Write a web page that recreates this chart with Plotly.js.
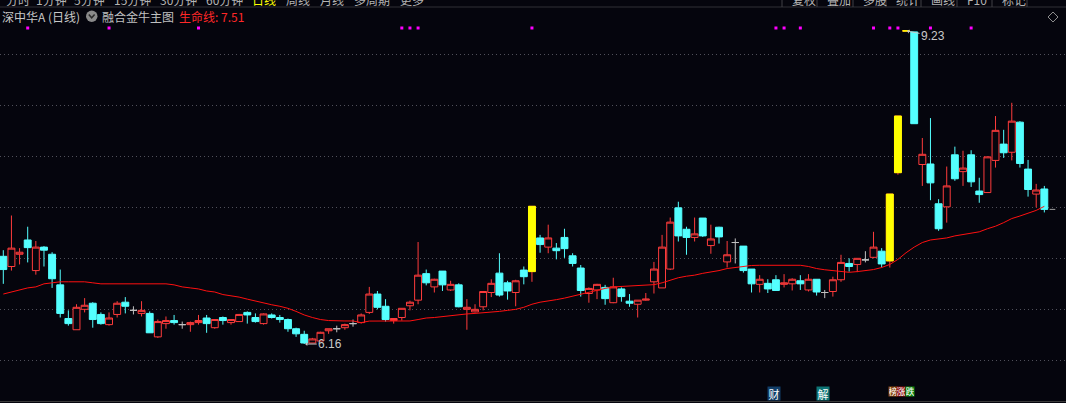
<!DOCTYPE html>
<html><head><meta charset="utf-8">
<script src="https://cdn.plot.ly/plotly-3.0.1.min.js"></script>
<style>html,body{margin:0;padding:0;background:#05050d;overflow:hidden}</style>
</head><body><div id="chart" style="width:1066px;height:403px"></div>
<script>
// ---------------- data (daily OHLC) ----------------
const openP  = [7.02,6.92,7.04,7.18,6.88,7.11,7.04,6.74,6.41,6.30,
                6.50,6.56,6.45,6.35,6.45,6.57,6.49,6.46,6.46,6.23,
                6.36,6.39,6.35,6.35,6.37,6.415,6.32,6.42,6.37,6.38,
                6.47,6.42,6.36,6.445,6.42,6.40,6.31,6.255,6.17,6.19,
                6.29,6.31,6.32,6.36,6.37,6.47,6.65,6.53,6.39,6.42,
                6.535,6.59,6.85,6.72,6.875,6.69,6.74,6.50,6.475,6.525,
                6.665,6.855,6.76,6.665,6.885,6.87,7.20,7.11,7.10,7.205,
                7.025,6.905,6.655,6.69,6.715,6.565,6.70,6.58,6.55,6.59,
                6.77,6.71,6.895,7.495,7.285,7.205,7.395,7.125,7.305,6.965,
                7.155,7.12,6.895,6.745,6.755,6.79,6.745,6.75,6.78,6.69,
                6.795,6.665,6.675,6.79,6.95,6.94,6.985,7.01,7.07,6.975,
                7.84,9.23,9.22,7.92,7.925,7.535,7.505,8.015,7.85,8.015,
                7.66,7.645,7.96,8.12,8.04,8.335,7.875,7.63,7.68];
const highP  = [7.08,7.42,7.10,7.31,7.17,7.12,7.06,6.89,6.49,6.55,
                6.61,6.57,6.47,6.47,6.58,6.62,6.53,6.58,6.48,6.40,
                6.43,6.445,6.38,6.38,6.445,6.445,6.40,6.43,6.40,6.455,
                6.48,6.46,6.46,6.46,6.445,6.41,6.32,6.29,6.22,6.28,
                6.31,6.34,6.36,6.40,6.46,6.72,6.68,6.60,6.415,6.51,
                6.585,7.16,6.89,6.80,6.875,6.78,6.755,6.60,6.55,6.68,
                6.795,7.05,6.78,6.79,6.92,7.51,7.23,7.33,7.15,7.29,
                7.05,6.935,6.715,6.75,6.74,6.81,6.715,6.65,6.59,6.66,
                6.965,7.23,7.40,7.555,7.31,7.40,7.395,7.33,7.31,7.17,
                7.195,7.12,6.895,6.835,6.795,6.835,6.845,6.805,6.835,6.845,
                6.795,6.69,6.82,7.035,7.00,7.00,7.07,7.26,7.10,7.63,
                8.395,9.23,9.22,8.18,8.375,7.58,7.90,8.095,8.055,8.06,
                7.79,8.00,8.395,8.26,8.525,8.345,7.965,7.73,7.71];
const lowP   = [6.75,6.88,6.94,6.96,6.84,6.92,6.71,6.42,6.34,6.30,
                6.47,6.32,6.35,6.34,6.42,6.46,6.45,6.43,6.27,6.22,
                6.31,6.35,6.31,6.28,6.35,6.27,6.31,6.35,6.35,6.38,
                6.36,6.37,6.35,6.41,6.37,6.28,6.23,6.16,6.17,6.19,
                6.26,6.275,6.30,6.33,6.36,6.455,6.50,6.38,6.36,6.39,
                6.49,6.55,6.735,6.665,6.68,6.68,6.52,6.30,6.47,6.49,
                6.62,6.625,6.595,6.53,6.745,6.77,7.055,7.05,6.99,7.005,
                6.92,6.625,6.565,6.60,6.545,6.56,6.575,6.525,6.42,6.585,
                6.655,6.71,6.885,7.165,7.035,7.165,7.21,7.045,7.145,6.91,
                6.95,6.86,6.665,6.665,6.66,6.68,6.715,6.685,6.69,6.675,
                6.635,6.61,6.625,6.77,6.87,6.865,6.96,7.00,6.91,6.91,
                7.82,9.23,8.32,7.71,7.57,7.27,7.35,7.76,7.71,7.70,
                7.545,7.645,7.89,7.985,7.96,7.89,7.605,7.50,7.45];
const closeP = [6.89,7.10,7.06,7.105,7.11,7.08,6.80,6.46,6.36,6.52,
                6.54,6.40,6.36,6.415,6.56,6.53,6.49,6.49,6.27,6.38,
                6.39,6.37,6.35,6.37,6.39,6.36,6.40,6.39,6.40,6.45,
                6.445,6.38,6.455,6.42,6.40,6.31,6.26,6.17,6.21,6.275,
                6.31,6.31,6.35,6.36,6.445,6.65,6.52,6.40,6.41,6.51,
                6.57,6.835,6.76,6.795,6.74,6.745,6.525,6.52,6.50,6.675,
                6.755,6.64,6.68,6.78,6.82,7.51,7.135,7.20,7.075,7.095,
                6.95,6.685,6.705,6.745,6.605,6.72,6.625,6.56,6.59,6.60,
                6.895,7.11,7.355,7.22,7.205,7.24,7.22,7.19,7.21,7.035,
                7.155,6.88,6.75,6.795,6.70,6.685,6.76,6.795,6.75,6.795,
                6.67,6.665,6.79,6.96,6.92,7.00,6.985,7.11,6.945,7.63,
                8.395,9.23,8.32,8.02,7.74,7.29,7.71,7.78,7.885,7.75,
                7.625,7.995,8.255,8.035,8.345,7.93,7.675,7.67,7.48];
// 生命线 (life line) values per day
const lifeLine = [6.65,6.67,6.69,6.71,6.72,6.75,6.76,6.77,6.77,6.77,
                  6.77,6.76,6.75,6.75,6.75,6.755,6.755,6.755,6.755,6.755,
                  6.75,6.74,6.72,6.71,6.70,6.68,6.67,6.645,6.635,6.62,
                  6.60,6.58,6.56,6.545,6.53,6.51,6.48,6.445,6.42,6.40,
                  6.39,6.386,6.386,6.386,6.37,6.385,6.386,6.386,6.386,6.386,
                  6.386,6.40,6.415,6.42,6.43,6.44,6.45,6.455,6.46,6.465,
                  6.477,6.48,6.49,6.50,6.52,6.55,6.57,6.58,6.595,6.61,
                  6.63,6.65,6.67,6.69,6.705,6.72,6.723,6.73,6.732,6.732,
                  6.742,6.76,6.785,6.81,6.825,6.835,6.853,6.866,6.88,6.90,
                  6.91,6.92,6.93,6.932,6.932,6.932,6.932,6.932,6.932,6.92,
                  6.90,6.888,6.88,6.872,6.863,6.87,6.88,6.89,6.91,6.94,
                  6.99,7.055,7.11,7.155,7.18,7.19,7.20,7.22,7.235,7.243,
                  7.26,7.29,7.315,7.35,7.39,7.415,7.445,7.47,7.51];
const limitUpDays = [66, 110, 111, 112];
const signalDays  = [4, 14, 25, 50, 51, 52, 66, 96, 97, 99, 108, 110, 111, 115, 120];
const gridPrices  = [6.0, 6.5, 7.0, 7.5, 8.0, 8.5, 9.0];
const highMark = {day: 112, label: '9.23'};
const lowMark  = {day: 38,  label: '6.16'};
const stockName = '深中华A (日线)';
const indicatorName = '融合金牛主图';
const lifeLineName = '生命线';
const periodTabs = ['分时','1分钟','5分钟','15分钟','30分钟','60分钟','日线','周线','月线','多周期','更多'];
const toolTabs = ['复权','叠加','多股','统计','画线','F10','标记'];
const eventDays = [96, 102, 110, 111, 112];
const eventLabels = ['财', '解', '榜', '涨', '跌'];

// ---------------- styling ----------------
const W = 1066, H = 403;
const BG = '#05050d', UP = '#ff3c3c', DOWN = '#54ffff', FLAT = '#c0c0c0', LIMIT = '#ffff00';
const px = x => x / W, py = y => 1 - y / H;

const days = openP.map((_, i) => i + 1);
const groups = {up: [], down: [], doji: [], limit: []};
days.forEach((d, i) => {
  const o = openP[i], c = closeP[i];
  if (limitUpDays.includes(d)) { groups.up.push(i); groups.limit.push(i); }
  else if (c > o) groups.up.push(i);
  else if (c < o) groups.down.push(i);
  else groups.doji.push(i);
});
function pick(arr, idx) { return idx.map(i => arr[i]); }
function candle(idx, incLine, incFill, decLine, decFill, bodyOnly) {
  const o = pick(openP, idx), c = pick(closeP, idx);
  return {
    type: 'candlestick', x: pick(days, idx), open: o, close: c,
    high: bodyOnly ? o.map((v, k) => Math.max(v, c[k])) : pick(highP, idx),
    low:  bodyOnly ? o.map((v, k) => Math.min(v, c[k])) : pick(lowP, idx),
    increasing: {line: {color: incLine, width: 1}, fillcolor: incFill},
    decreasing: {line: {color: decLine, width: 1}, fillcolor: decFill},
    whiskerwidth: 0, hoverinfo: 'skip', showlegend: false
  };
}
const traces = [
  {type: 'scatter', mode: 'lines', x: days, y: lifeLine,
   line: {color: '#ff1010', width: 1}, hoverinfo: 'skip', showlegend: false},
  candle(groups.up, UP, BG, UP, BG, false),
  candle(groups.down, DOWN, DOWN, DOWN, DOWN, false),
  candle(groups.doji, FLAT, FLAT, FLAT, FLAT, false),
  candle(groups.limit, LIMIT, LIMIT, LIMIT, LIMIT, true),
  {type: 'scatter', mode: 'markers', x: signalDays, y: signalDays.map(() => py(28)), yaxis: 'y2',
   marker: {symbol: 'square', size: 3, color: '#ff00ff', line: {width: 0}},
   hoverinfo: 'skip', showlegend: false}
];

const CJK = '"Noto Sans CJK SC", "Noto Sans", sans-serif';
const annotations = [];
function txt(x, y, text, color, size, extra) {
  annotations.push(Object.assign({xref: 'paper', yref: 'paper', x: px(x), y: py(y), text,
    showarrow: false, xanchor: 'left', yanchor: 'middle',
    font: {family: CJK, size, color}}, extra || {}));
}
txt(0, 16.5, stockName, '#c8c8c8', 12);
txt(100, 16.5, indicatorName, '#c0c0c0', 12);
txt(177, 16.5, lifeLineName + ': ' + lifeLine[lifeLine.length - 1].toFixed(2), '#ff2828', 12);

// tab bar along the top edge (only its lower part lies inside the picture)
const tabX = [4, 34, 72, 112, 158, 204, 250, 284, 318, 352, 398];
periodTabs.forEach((t, k) => txt(tabX[k], -0.5, t, t === '日线' ? '#ffff00' : '#b4b4b4', 12));
const toolSep = [782, 817, 853, 886, 921, 957, 992, 1027];
toolTabs.forEach((t, k) => txt(toolSep[k] + 8, -0.5, t, '#b4b4b4', 12));

// price marks
const hmI = highMark.day - 1, lmI = lowMark.day - 1;
annotations.push({x: highMark.day, y: highP[hmI], xref: 'x', yref: 'y', text: highMark.label,
  showarrow: true, ax: 27, ay: 5, arrowhead: 1, arrowsize: 0.7, arrowwidth: 1, arrowcolor: '#c8c8c8',
  standoff: 1, font: {family: 'Liberation Sans, Arial', size: 12, color: '#c8c8c8'}});
annotations.push({x: lowMark.day, y: lowP[lmI], xref: 'x', yref: 'y', text: lowMark.label,
  showarrow: true, ax: 26, ay: 0, arrowhead: 1, arrowsize: 0.7, arrowwidth: 1, arrowcolor: '#c8c8c8',
  standoff: 1, font: {family: 'Liberation Sans, Arial', size: 12, color: '#c8c8c8'}});

// event badges along the bottom
const badgeColors = {'财': '#123e68', '解': '#0e7474', '榜': '#8a4a12', '涨': '#8c1010', '跌': '#128a12'};
eventDays.forEach((d, k) => {
  const lab = eventLabels[k];
  const small = k >= 2;
  annotations.push({x: d, xref: 'x', y: py(small ? 391 : 393.5), yref: 'paper', text: lab,
    showarrow: false, xanchor: 'center', yanchor: 'middle', xshift: small ? 3.5 : -1.5,
    bgcolor: badgeColors[lab], borderpad: 0, width: small ? 8 : 12, height: small ? 9 : 13,
    font: {family: CJK, size: small ? 9 : 11, color: '#ffffff'}});
});

const shapes = [
  {type: 'line', xref: 'paper', yref: 'paper', x0: 0, x1: 1, y0: py(7), y1: py(7), line: {color: '#303036', width: 1}},
  {type: 'line', xref: 'paper', yref: 'paper', x0: 0, x1: 1, y0: py(401.5), y1: py(401.5), line: {color: '#3a3a3a', width: 1}},
  {type: 'circle', xref: 'paper', yref: 'paper', x0: px(86), x1: px(97.5), y0: py(22), y1: py(10.5),
   fillcolor: '#8a8a8a', line: {width: 0}},
  {type: 'path', xref: 'paper', yref: 'paper',
   path: `M${px(88.8)},${py(14.5)} L${px(91.7)},${py(17.8)} L${px(94.6)},${py(14.5)}`,
   line: {color: '#2a2a2a', width: 1.5}},
  {type: 'path', xref: 'paper', yref: 'paper',
   path: `M${px(1048)},${py(17)} L${px(1053)},${py(12)} L${px(1058)},${py(17)} L${px(1053)},${py(22)} Z`,
   line: {color: '#8c8c8c', width: 1}},
  {type: 'line', xref: 'x', yref: 'y', x0: days.length + 0.65, x1: days.length + 1.35,
   y0: closeP[closeP.length - 1], y1: closeP[closeP.length - 1], line: {color: '#a0a0a0', width: 1}}
];
toolSep.forEach(x => shapes.push({type: 'line', xref: 'paper', yref: 'paper', x0: px(x), x1: px(x),
  y0: py(0), y1: py(7), line: {color: '#404046', width: 1}}));

const layout = {
  width: W, height: H, margin: {l: 0, r: 0, t: 0, b: 0},
  paper_bgcolor: BG, plot_bgcolor: BG, showlegend: false,
  boxgap: 0.15, boxgroupgap: 0,
  xaxis: {range: [0.594, 0.594 + W / 8.133], visible: false, showgrid: false, zeroline: false,
          rangeslider: {visible: false}, fixedrange: true},
  yaxis: {range: [9.5327 - H / 102, 9.5327], tickvals: gridPrices, showticklabels: false, ticks: '',
          gridcolor: '#50505a', griddash: '1px,3px', gridwidth: 1, zeroline: false, showline: false, fixedrange: true},
  yaxis2: {overlaying: 'y', range: [0, 1], visible: false, fixedrange: true},
  annotations, shapes
};
Plotly.newPlot('chart', traces, layout, {staticPlot: true, displayModeBar: false});
</script></body></html>
